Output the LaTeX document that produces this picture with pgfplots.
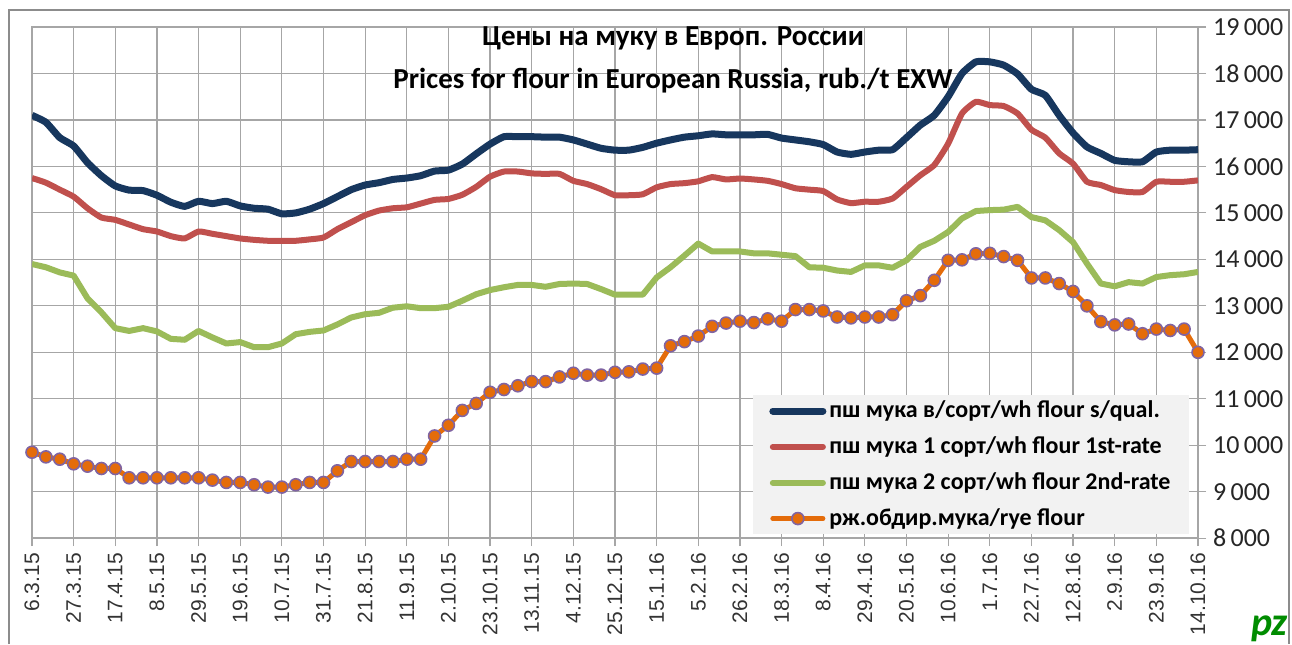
\documentclass[border=0pt]{standalone}
\usepackage{pgfplots}
\pgfplotsset{compat=1.18}
\usepackage{pgfplotstable}
\usepackage{fontspec}
\setmainfont{Carlito}
\newfontfamily\arialf{Liberation Sans}
\definecolor{cBlue}{HTML}{17375E}
\definecolor{cRed}{HTML}{C0504D}
\definecolor{cGreen}{HTML}{9BBB59}
\definecolor{cOrange}{HTML}{E46C0A}
\definecolor{cPurple}{HTML}{8064A2}
\definecolor{cGrid}{HTML}{A6A6A6}

\pgfplotstableread{
i s r1 r2 rye
0 17100 15750 13900 9850
1 16950 15650 13830 9750
2 16620 15500 13720 9700
3 16440 15350 13650 9600
4 16080 15100 13160 9550
5 15800 14900 12860 9500
6 15580 14850 12520 9500
7 15490 14750 12460 9300
8 15480 14650 12520 9300
9 15380 14600 12450 9300
10 15230 14500 12290 9300
11 15140 14450 12270 9300
12 15250 14600 12460 9300
13 15200 14550 12320 9250
14 15250 14500 12190 9200
15 15150 14450 12220 9200
16 15100 14420 12110 9150
17 15080 14400 12110 9100
18 14980 14400 12190 9100
19 15000 14400 12390 9150
20 15080 14430 12440 9200
21 15200 14470 12470 9200
22 15350 14650 12600 9450
23 15500 14800 12750 9650
24 15600 14950 12820 9650
25 15650 15050 12850 9650
26 15720 15100 12960 9650
27 15750 15120 12990 9700
28 15800 15200 12950 9700
29 15900 15280 12950 10200
30 15920 15300 12980 10430
31 16050 15390 13110 10750
32 16270 15560 13250 10900
33 16480 15780 13340 11140
34 16640 15890 13400 11200
35 16640 15890 13450 11280
36 16640 15850 13450 11370
37 16630 15840 13410 11370
38 16630 15840 13470 11470
39 16570 15690 13480 11550
40 16480 15620 13470 11510
41 16390 15510 13360 11510
42 16350 15380 13240 11570
43 16350 15380 13240 11580
44 16410 15400 13240 11640
45 16500 15550 13610 11660
46 16570 15620 13830 12140
47 16630 15640 14080 12230
48 16660 15680 14340 12350
49 16700 15770 14170 12560
50 16680 15720 14170 12630
51 16680 15740 14170 12670
52 16680 15720 14130 12640
53 16690 15690 14130 12720
54 16610 15620 14100 12670
55 16570 15530 14070 12920
56 16530 15500 13830 12920
57 16470 15470 13820 12890
58 16310 15290 13760 12760
59 16260 15210 13730 12740
60 16310 15240 13870 12760
61 16350 15240 13870 12760
62 16360 15310 13820 12810
63 16620 15560 13980 13110
64 16890 15810 14270 13220
65 17100 16030 14400 13550
66 17500 16490 14590 13980
67 18000 17140 14880 13990
68 18250 17390 15040 14120
69 18250 17320 15060 14130
70 18180 17300 15070 14060
71 17990 17140 15130 13980
72 17660 16790 14910 13600
73 17530 16620 14840 13600
74 17100 16280 14630 13480
75 16720 16060 14370 13310
76 16420 15670 13910 13000
77 16280 15600 13480 12660
78 16130 15490 13420 12590
79 16100 15450 13510 12610
80 16100 15450 13480 12400
81 16310 15670 13620 12500
82 16350 15670 13660 12470
83 16350 15670 13680 12500
84 16360 15700 13730 12000
}\data

\begin{document}
\begin{tikzpicture}
\useasboundingbox (0,0) rectangle (646pt,-322pt);
\fill[white] (0,0) rectangle (646pt,-322pt);
\draw[color=black!45, line width=1pt] (4.5pt,-322pt) -- (4.5pt,-5pt) -- (644.5pt,-5pt) -- (644.5pt,-322pt);
\begin{axis}[
  at={(16pt,-13.5pt)}, anchor=north west,
  scale only axis, width=583pt, height=255.6pt,
  xmin=0, xmax=84, ymin=8000, ymax=19000,
  xtick={0,3,...,84},
  xticklabels={6.3.15,27.3.15,17.4.15,8.5.15,29.5.15,19.6.15,10.7.15,31.7.15,21.8.15,11.9.15,2.10.15,23.10.15,13.11.15,4.12.15,25.12.15,15.1.16,5.2.16,26.2.16,18.3.16,8.4.16,29.4.16,20.5.16,10.6.16,1.7.16,22.7.16,12.8.16,2.9.16,23.9.16,14.10.16},
  ytick={8000,9000,...,19000},
  scaled y ticks=false,
  yticklabel pos=right,
  xtick pos=left, ytick pos=right,
  grid=major, major grid style={cGrid, line width=0.6pt},
  axis line style={cGrid, line width=0.8pt},
  tick style={cGrid, line width=0.6pt},
  tick align=outside, major tick length=4pt,
  x tick label style={font=\arialf\fontsize{10.5}{12}\selectfont, rotate=90, anchor=east, text=black!80},
  y tick label style={font=\fontsize{13}{15}\selectfont, text=black!85, /pgf/number format/fixed, /pgf/number format/1000 sep={\,}, /pgf/number format/assume math mode=true},
  legend style={at={(0.993,0.0065)}, anchor=south east, fill=black!5, draw=none,
    font=\bfseries\fontsize{12}{14}\selectfont, row sep=4pt, inner xsep=8pt, inner ysep=1pt,
    nodes={inner xsep=1.5pt}},
  legend cell align=left,
  legend image code/.code={\draw[mark repeat=2,mark phase=2, line cap=round] plot coordinates {(0cm,0cm) (0.44cm,0cm) (0.88cm,0cm)};},
]
\addplot[cBlue, line width=3.5pt, smooth, tension=0.3, line join=round] table[x=i,y=s]{\data};
\addlegendentry{пш мука в/сорт/wh flour s/qual.}
\addplot[cRed, line width=3pt, smooth, tension=0.3, line join=round] table[x=i,y=r1]{\data};
\addlegendentry{пш мука 1 сорт/wh flour 1st-rate}
\addplot[cGreen, line width=3pt, line join=round] table[x=i,y=r2]{\data};
\addlegendentry{пш мука 2 сорт/wh flour 2nd-rate}
\addplot[cOrange, line width=2.5pt, line join=round, mark=*, mark size=3pt, mark options={fill=cOrange, draw=cPurple, line width=0.8pt}] table[x=i,y=rye]{\data};
\addlegendentry{рж.обдир.мука/rye flour}
\end{axis}
\node[anchor=base, font=\bfseries\fontsize{14.5}{16}\selectfont] at (336.5pt,-22.5pt) {Цены на муку в Европ. России};
\node[anchor=base, font=\bfseries\fontsize{14.5}{16}\selectfont] at (336.5pt,-44pt) {Prices for flour in European Russia, rub./t EXW};
\node[anchor=south east, inner sep=1pt, text=green!55!black, font=\bfseries\itshape\fontsize{20}{20}\selectfont] at (645pt,-322pt) {pz};
\end{tikzpicture}
\end{document}
